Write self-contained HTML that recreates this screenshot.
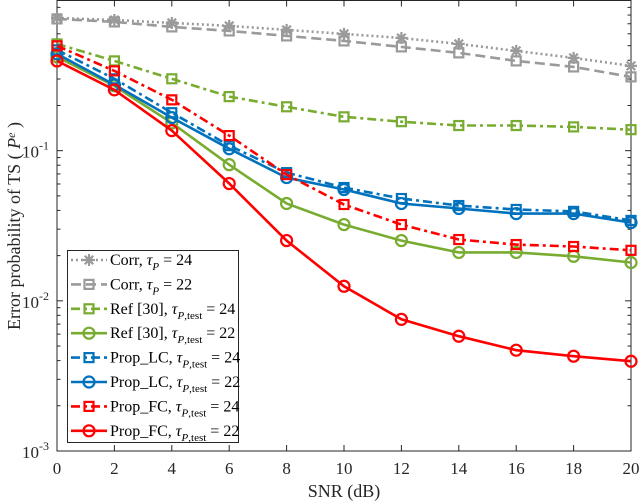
<!DOCTYPE html>
<html><head><meta charset="utf-8"><style>
html,body{margin:0;padding:0;background:#fff;}
svg{display:block;font-family:"Liberation Serif",serif;}
</style></head><body>
<svg id="chart" width="640" height="501" viewBox="0 0 640 501" xmlns="http://www.w3.org/2000/svg"></svg>
<script>
const snr = [0,2,4,6,8,10,12,14,16,18,20];
const corr24 = [0.765,0.742,0.709,0.677,0.637,0.599,0.563,0.514,0.462,0.415,0.367];
const corr22 = [0.754,0.720,0.667,0.627,0.581,0.538,0.491,0.448,0.396,0.361,0.310];
const ref24 = [0.514,0.396,0.301,0.229,0.196,0.168,0.156,0.147,0.147,0.144,0.138];
const ref22 = [0.421,0.270,0.153,0.0807,0.0445,0.0322,0.0252,0.0210,0.0210,0.0198,0.0180];
const lc24 = [0.469,0.301,0.179,0.108,0.0714,0.0568,0.048,0.0431,0.0406,0.0394,0.0343];
const lc22 = [0.441,0.275,0.166,0.103,0.0662,0.0551,0.0445,0.0412,0.0381,0.0381,0.0332];
const fc24 = [0.499,0.340,0.218,0.126,0.0693,0.0438,0.0322,0.0256,0.0237,0.0230,0.0217];
const fc22 = [0.396,0.254,0.136,0.0604,0.0252,0.0125,0.00753,0.00581,0.00469,0.00428,0.00396];
const xTicks = [0,2,4,6,8,10,12,14,16,18,20];
const yDecades = [-3,-2,-1];

const NS="http://www.w3.org/2000/svg";
const svg=document.getElementById('chart');
const L=57,R=631,T=0.5,B=451;
const xS=v=>L+(v-0)/(20-0)*(R-L);
const yS=v=>B-(Math.log10(v)+3)/3*(B-T);
function mk(tag,attrs,parent){const e=document.createElementNS(NS,tag);for(const k in attrs)e.setAttribute(k,attrs[k]);(parent||svg).appendChild(e);return e;}

const axes=mk('rect',{x:L,y:T,width:R-L,height:B-T,fill:'none',stroke:'#262626','stroke-width':1});



xTicks.forEach(t=>{
  const x=xS(t);
  mk('line',{x1:x,y1:B,x2:x,y2:B-6,stroke:'#262626'});
  mk('line',{x1:x,y1:T,x2:x,y2:T+6,stroke:'#262626'});
  const tx=mk('text',{x:x,y:474,'text-anchor':'middle','font-size':17,fill:'#262626'});
  tx.textContent=t;
  
  
});
for(let d=-3;d<=-1;d++){
  for(let m=1;m<10;m++){
    const v=m*Math.pow(10,d);
    const y=yS(v);
    const len=m===1?6:3.5;
    mk('line',{x1:L,y1:y,x2:L+len,y2:y,stroke:'#262626'});
    mk('line',{x1:R,y1:y,x2:R-len,y2:y,stroke:'#262626'});
  }
}
yDecades.forEach(d=>{
  const y=yS(Math.pow(10,d));
  const tx=mk('text',{x:49,y:y+7,'text-anchor':'end','font-size':17,fill:'#262626'});
  tx.innerHTML='10<tspan dy="-8" font-size="12">'+d+'</tspan>';
  
  
});

const xl=mk('text',{x:344,y:497,'text-anchor':'middle','font-size':18,fill:'#262626'});
xl.textContent='SNR (dB)';


const yl=mk('text',{x:0,y:0,'text-anchor':'middle','font-size':18,fill:'#262626',transform:'translate(20,226) rotate(-90)'});
yl.innerHTML='Error probability of TS ( <tspan font-style="italic">P</tspan><tspan font-style="italic" font-size="12" dy="-5">e</tspan><tspan dy="5"> )</tspan>';



const series=[
 {n:'corr-24',d:corr24,c:'#9a9a9a',dash:'2,3',m:'star'},
 {n:'corr-22',d:corr22,c:'#9a9a9a',dash:'10,5',m:'sq'},
 {n:'ref-24',d:ref24,c:'#77ac30',dash:'9,4,3,4',m:'sq'},
 {n:'ref-22',d:ref22,c:'#77ac30',dash:'',m:'ci'},
 {n:'lc-24',d:lc24,c:'#0072bd',dash:'9,4,3,4',m:'sq'},
 {n:'lc-22',d:lc22,c:'#0072bd',dash:'',m:'ci'},
 {n:'fc-24',d:fc24,c:'#ff0000',dash:'9,4,3,4',m:'sq'},
 {n:'fc-22',d:fc22,c:'#ff0000',dash:'',m:'ci'}
];
function marker(type,x,y,c,g){
  if(type==='sq') mk('rect',{x:x-4.5,y:y-4.5,width:9,height:9,fill:'none',stroke:c,'stroke-width':2.2},g);
  else if(type==='ci') mk('circle',{cx:x,cy:y,r:5.5,fill:'none',stroke:c,'stroke-width':2.2},g);
  else {for(let a=0;a<4;a++){const ang=a*Math.PI/4;mk('line',{x1:x-6*Math.cos(ang),y1:y-6*Math.sin(ang),x2:x+6*Math.cos(ang),y2:y+6*Math.sin(ang),stroke:c,'stroke-width':2.2},g);}}
}
series.forEach(s=>{
  const g=mk('g',{});
  
  
  const pts=s.d.map((v,i)=>xS(snr[i]).toFixed(1)+','+yS(v).toFixed(1)).join(' ');
  mk('polyline',{points:pts,fill:'none',stroke:s.c,'stroke-width':2.6,'stroke-dasharray':s.dash},g);
  s.d.forEach((v,i)=>marker(s.m,xS(snr[i]),yS(v),s.c,g));
});

const lg=mk('g',{});


mk('rect',{x:67.5,y:250.5,width:171,height:192,fill:'#fff',stroke:'#262626','stroke-width':1},lg);
const labels=[
 'Corr, <tspan font-style="italic">τ</tspan><tspan font-style="italic" font-size="11" dy="5">P</tspan><tspan dy="-5"> = 24</tspan>',
 'Corr, <tspan font-style="italic">τ</tspan><tspan font-style="italic" font-size="11" dy="5">P</tspan><tspan dy="-5"> = 22</tspan>',
 'Ref [30], <tspan font-style="italic">τ</tspan><tspan font-size="11" dy="5"><tspan font-style="italic">P</tspan>,test</tspan><tspan dy="-5"> = 24</tspan>',
 'Ref [30], <tspan font-style="italic">τ</tspan><tspan font-size="11" dy="5"><tspan font-style="italic">P</tspan>,test</tspan><tspan dy="-5"> = 22</tspan>',
 'Prop_LC, <tspan font-style="italic">τ</tspan><tspan font-size="11" dy="5"><tspan font-style="italic">P</tspan>,test</tspan><tspan dy="-5"> = 24</tspan>',
 'Prop_LC, <tspan font-style="italic">τ</tspan><tspan font-size="11" dy="5"><tspan font-style="italic">P</tspan>,test</tspan><tspan dy="-5"> = 22</tspan>',
 'Prop_FC, <tspan font-style="italic">τ</tspan><tspan font-size="11" dy="5"><tspan font-style="italic">P</tspan>,test</tspan><tspan dy="-5"> = 24</tspan>',
 'Prop_FC, <tspan font-style="italic">τ</tspan><tspan font-size="11" dy="5"><tspan font-style="italic">P</tspan>,test</tspan><tspan dy="-5"> = 22</tspan>'
];
series.forEach((s,i)=>{
  const y=260+i*24.4;
  const e=mk('g',{},lg);
  
  
  mk('line',{x1:71,y1:y,x2:107,y2:y,stroke:s.c,'stroke-width':2.6,'stroke-dasharray':s.dash},e);
  marker(s.m,89,y,s.c,e);
  const t=mk('text',{x:110,y:y+5,'font-size':16,fill:'#000'},e);
  t.innerHTML=labels[i];
});
</script>
</body></html>
